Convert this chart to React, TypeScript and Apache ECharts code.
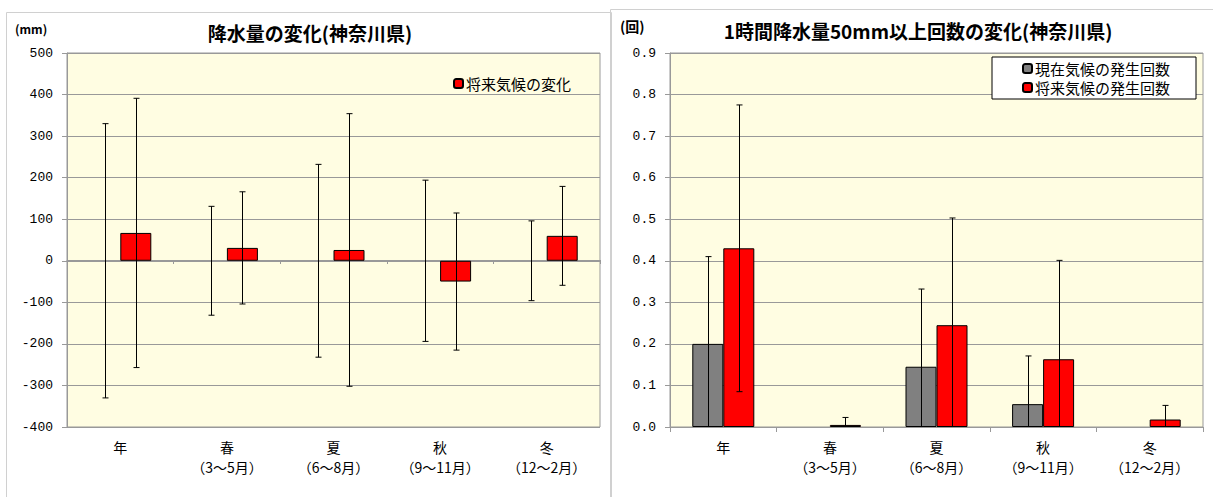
import React, { useEffect, useRef } from "react";
import * as echarts from "echarts";

const categories = ["年", "春\n（3～5月）", "夏\n（6～8月）", "秋\n（9～11月）", "冬\n（12～2月）"];

// Left: precipitation change (mm)
const leftCurrentChange = [0, 0, 0, 0, 0];
const leftCurrentRange = [330, 131, 232, 194, 96];
const leftFutureChange = [67, 31, 26, -50, 60];
const leftFutureRange = [324, 135, 328, 165, 119];
const leftTicks = [-400, 500, 100];

// Right: occurrences of >=50mm/h
const rightCurrent = [0.2, 0, 0.145, 0.055, 0];
const rightCurrentRange = [0.21, 0, 0.187, 0.116, 0];
const rightFuture = [0.43, 0.005, 0.245, 0.163, 0.018];
const rightFutureRange = [0.345, 0.018, 0.258, 0.238, 0.034];
const rightTicks = [0, 0.9, 0.1];

const FONT = "'Noto Sans CJK JP', sans-serif";
const MONO = "'Liberation Mono', monospace";
const BAR_W = 31;

function errData(vals: number[], ranges: number[], min: number) {
  const out: number[][] = [];
  vals.forEach((v, i) => {
    const r = ranges[i];
    if (r <= 0) return;
    const lo = v - r;
    out.push([i, Math.max(lo, min), v + r, lo >= min ? 1 : 0]);
  });
  return out;
}

// zero-height bars are drawn as missing so that no border line shows
const nz = (vals: number[]) => vals.map((v) => (v === 0 ? "-" : v));

function errSeries(data: number[][], off: number, xi: number, yi: number) {
  return {
    type: "custom",
    xAxisIndex: xi,
    yAxisIndex: yi,
    z: 5,
    silent: true,
    encode: { x: 0, y: [1, 2] },
    data,
    renderItem: (params: any, api: any) => {
      const i = api.value(0);
      const lo = api.value(1);
      const hi = api.value(2);
      const cap = api.value(3);
      const b = api.coord([i, lo]);
      const t = api.coord([i, hi]);
      const x = Math.round(b[0] + off) + 0.5;
      const st = { stroke: "#000", lineWidth: 1 };
      const children: any[] = [
        { type: "line", shape: { x1: x, y1: b[1], x2: x, y2: t[1] }, style: st },
        { type: "line", shape: { x1: x - 3, y1: t[1], x2: x + 3, y2: t[1] }, style: st },
      ];
      if (cap) children.push({ type: "line", shape: { x1: x - 3, y1: b[1], x2: x + 3, y2: b[1] }, style: st });
      return { type: "group", children };
    },
  };
}

export default function App() {
  const ref = useRef<HTMLDivElement>(null);
  useEffect(() => {
    if (!ref.current) return;
    const chart = echarts.init(ref.current, undefined, { renderer: "svg" });
    const gridLine = { show: true, lineStyle: { color: "#999", width: 1 } };
    const yLabel = { color: "#000", fontFamily: MONO, fontSize: 13 };
    const xLabel = { color: "#000", fontFamily: FONT, fontSize: 14, lineHeight: 20, interval: 0 };
    const option: any = {
      animation: false,
      backgroundColor: "#fff",
      textStyle: { fontFamily: FONT },
      graphic: [
        { type: "rect", shape: { x: 6.5, y: 12.5, width: 605, height: 500 }, style: { fill: "none", stroke: "#d0d0d0", lineWidth: 1 } },
        { type: "rect", shape: { x: 610.5, y: 9.5, width: 610, height: 500 }, style: { fill: "none", stroke: "#d0d0d0", lineWidth: 1 } },
        { type: "text", left: 15, top: 22, style: { text: "(mm)", font: `bold 12px ${FONT}`, fill: "#000" } },
        { type: "text", left: 620, top: 19, style: { text: "(回)", font: `bold 14px ${FONT}`, fill: "#000" } },
      ],
      title: [
        { text: "降水量の変化(神奈川県)", left: 305, top: 18, textAlign: "center", textStyle: { fontFamily: FONT, fontSize: 19, fontWeight: "bold", color: "#000" } },
        { text: "1時間降水量50mm以上回数の変化(神奈川県)", left: 913, top: 16, textAlign: "center", textStyle: { fontFamily: FONT, fontSize: 19, fontWeight: "bold", color: "#000" } },
      ],
      legend: [
        {
          data: ["将来気候の変化"],
          left: 448, top: 71, itemWidth: 9, itemHeight: 9, itemGap: 4,
          textStyle: { fontFamily: FONT, fontSize: 15, color: "#000", padding: [0, 0, 0, -2] },
        },
        {
          data: ["現在気候の発生回数", "将来気候の発生回数"],
          orient: "vertical",
          left: 992, top: 57, itemWidth: 9, itemHeight: 9, itemGap: 4,
          padding: [4, 26, 4, 30],
          borderColor: "#000", borderWidth: 1, backgroundColor: "#fff",
          textStyle: { fontFamily: FONT, fontSize: 15, color: "#000", padding: [0, 0, 0, -2] },
        },
      ],
      grid: [
        { left: 67, top: 53, width: 533, height: 374, show: true, backgroundColor: "#FFFDE2", borderColor: "#999", borderWidth: 1 },
        { left: 670, top: 53, width: 533, height: 374, show: true, backgroundColor: "#FFFDE2", borderColor: "#999", borderWidth: 1 },
      ],
      xAxis: [
        { type: "category", gridIndex: 0, data: categories, axisLine: { show: false }, axisTick: { show: false }, axisLabel: { ...xLabel, margin: 10 } },
        { type: "category", gridIndex: 0, data: categories, position: "bottom", offset: -167, axisLine: { show: true, onZero: false, lineStyle: { color: "#999" } }, axisTick: { show: true, length: 4, lineStyle: { color: "#999" } }, axisLabel: { show: false } },
        { type: "category", gridIndex: 1, data: categories, axisLine: { show: true, lineStyle: { color: "#999" } }, axisTick: { show: true, length: 5, lineStyle: { color: "#999" } }, axisLabel: { ...xLabel, margin: 10 } },
      ],
      yAxis: [
        { type: "value", gridIndex: 0, min: leftTicks[0], max: leftTicks[1], interval: leftTicks[2], axisLine: { show: true, lineStyle: { color: "#999" } }, axisTick: { show: true, length: 5, lineStyle: { color: "#999" } }, splitLine: gridLine, axisLabel: { ...yLabel, margin: 14 } },
        { type: "value", gridIndex: 1, min: rightTicks[0], max: rightTicks[1], interval: rightTicks[2], axisLine: { show: true, lineStyle: { color: "#999" } }, axisTick: { show: true, length: 5, lineStyle: { color: "#999" } }, splitLine: gridLine, axisLabel: { ...yLabel, margin: 14, formatter: (v: number) => v.toFixed(1) } },
      ],
      series: [
        { name: "現在気候の変化", type: "bar", xAxisIndex: 0, yAxisIndex: 0, data: nz(leftCurrentChange), barWidth: BAR_W, barGap: "0%", itemStyle: { color: "#808080", borderWidth: 0 } },
        { name: "将来気候の変化", type: "bar", xAxisIndex: 0, yAxisIndex: 0, data: nz(leftFutureChange), barWidth: BAR_W, barGap: "0%", itemStyle: { color: "#FF0000", borderColor: "#000", borderWidth: 1 } },
        errSeries(errData(leftCurrentChange, leftCurrentRange, leftTicks[0]), -BAR_W / 2, 0, 0),
        errSeries(errData(leftFutureChange, leftFutureRange, leftTicks[0]), BAR_W / 2, 0, 0),
        { name: "現在気候の発生回数", type: "bar", xAxisIndex: 2, yAxisIndex: 1, data: nz(rightCurrent), barWidth: BAR_W, barGap: "0%", itemStyle: { color: "#808080", borderColor: "#000", borderWidth: 1 } },
        { name: "将来気候の発生回数", type: "bar", xAxisIndex: 2, yAxisIndex: 1, data: nz(rightFuture), barWidth: BAR_W, barGap: "0%", itemStyle: { color: "#FF0000", borderColor: "#000", borderWidth: 1 } },
        errSeries(errData(rightCurrent, rightCurrentRange, rightTicks[0]), -BAR_W / 2, 2, 1),
        errSeries(errData(rightFuture, rightFutureRange, rightTicks[0]), BAR_W / 2, 2, 1),
      ],
    };
    chart.setOption(option);
    return () => chart.dispose();
  }, []);
  return <div ref={ref} style={{ position: "fixed", left: 0, top: 0, width: 1213, height: 497, background: "#fff" }} />;
}
